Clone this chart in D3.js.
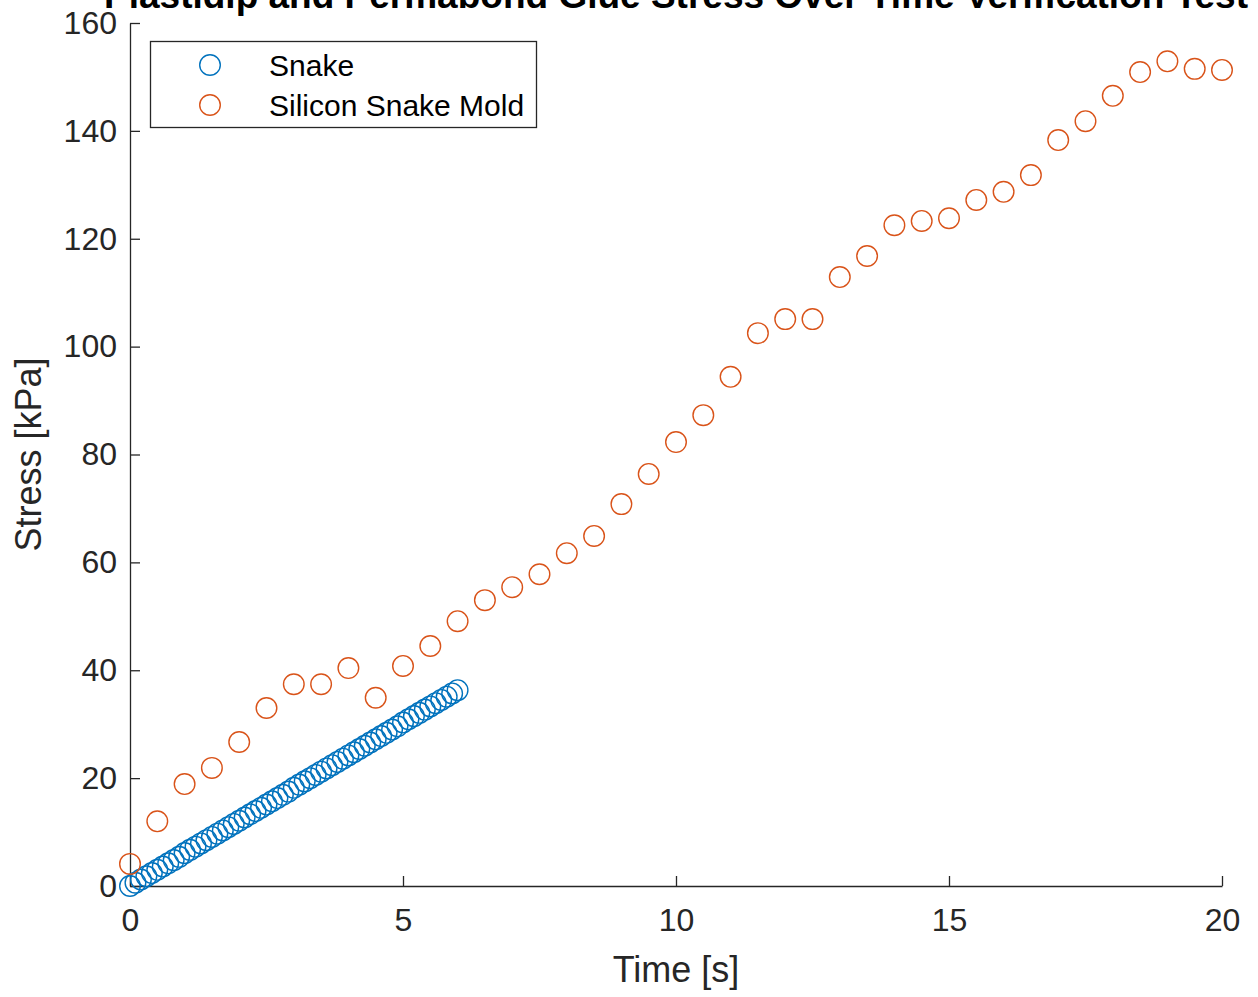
<!DOCTYPE html>
<head>
    <script src="https://d3js.org/d3.v7.min.js"></script>
    <style>
        body { margin: 0; background: #fff; }
        text { font-family: "Liberation Sans", Arial, sans-serif; }
    </style>
</head>

<body>
    <div id="chart"></div>
</body>

<script>

    // Snake: time [s] and stress [kPa]
    const snakeTime = [0.0,0.1,0.2,0.3,0.4,0.5,0.6,0.7,0.8,0.9,1.0,1.1,1.2,1.3,1.4,1.5,1.6,1.7,1.8,1.9,
        2.0,2.1,2.2,2.3,2.4,2.5,2.6,2.7,2.8,2.9,3.0,3.1,3.2,3.3,3.4,3.5,3.6,3.7,3.8,3.9,
        4.0,4.1,4.2,4.3,4.4,4.5,4.6,4.7,4.8,4.9,5.0,5.1,5.2,5.3,5.4,5.5,5.6,5.7,5.8,5.9,6.0];
    const snakeStress = [0.0,0.6,1.2,1.8,2.4,3.0,3.6,4.2,4.8,5.4,6.1,6.7,7.3,7.9,8.5,9.1,9.7,10.3,10.9,11.5,
        12.1,12.7,13.3,13.9,14.5,15.1,15.7,16.3,16.9,17.5,18.2,18.8,19.4,20.0,20.6,21.2,21.8,22.4,23.0,23.6,
        24.2,24.8,25.4,26.0,26.6,27.2,27.8,28.4,29.0,29.6,30.3,30.9,31.5,32.1,32.7,33.3,33.9,34.5,35.1,35.7,36.3];

    // Silicon Snake Mold
    const moldTime = [0,0.5,1,1.5,2,2.5,3,3.5,4,4.5,5,5.5,6,6.5,7,7.5,8,8.5,9,9.5,
        10,10.5,11,11.5,12,12.5,13,13.5,14,14.5,15,15.5,16,16.5,17,17.5,18,18.5,19,19.5,20];
    const moldStress = [4.1,12.0,18.9,21.9,26.7,33.0,37.4,37.4,40.4,34.9,40.8,44.5,49.1,53.0,55.4,57.8,61.7,64.9,70.8,76.4,
        82.3,87.3,94.4,102.5,105.1,105.1,112.9,116.8,122.5,123.3,123.8,127.2,128.7,131.8,138.3,141.8,146.5,150.9,152.9,151.5,151.3];

    const xTicks = [0, 5, 10, 15, 20];
    const yTicks = [0, 20, 40, 60, 80, 100, 120, 140, 160];

    const seriesNames = ['Snake', 'Silicon Snake Mold'];
    const seriesColors = ['#0072BD', '#D95319'];

    const width = 1258,
        height = 997;
    const margin = {left: 130, right: 36, top: 23, bottom: 111};
    const axisColor = '#262626';

    const svg = d3.select('#chart').append('svg')
        .attr('width', width)
        .attr('height', height);

    const x = d3.scaleLinear()
        .domain([0, 20])
        .range([margin.left, width - margin.right]);

    const y = d3.scaleLinear()
        .domain([0, 160])
        .range([height - margin.bottom, margin.top]);

    // axes (box off, ticks pointing inward)
    const xAxis = svg.append('g')
        .attr('transform', `translate(0,${y(0)})`)
        .call(d3.axisBottom(x).tickValues(xTicks).tickSizeInner(-10).tickSizeOuter(0).tickPadding(22));

    const yAxis = svg.append('g')
        .attr('transform', `translate(${x(0)},0)`)
        .call(d3.axisLeft(y).tickValues(yTicks).tickSizeInner(-10).tickSizeOuter(0).tickPadding(13));

    [xAxis, yAxis].forEach(g => {
        g.select('.domain').attr('stroke', axisColor).attr('stroke-width', 1.3);
        g.selectAll('.tick line').attr('stroke', axisColor).attr('stroke-width', 1.3);
        g.selectAll('.tick text')
            .attr('fill', axisColor)
            .style('font-size', '32px')
            .style('font-family', '"Liberation Sans", Arial, sans-serif');
    });

    // series
    const series = [
        {name: seriesNames[0], color: seriesColors[0], pts: snakeTime.map((t, i) => [t, snakeStress[i]])},
        {name: seriesNames[1], color: seriesColors[1], pts: moldTime.map((t, i) => [t, moldStress[i]])}
    ];

    series.forEach(s => {
        svg.append('g')
            .selectAll('circle').data(s.pts)
            .enter()
            .append('circle')
            .attr('cx', d => x(d[0]))
            .attr('cy', d => y(d[1]))
            .attr('r', 10.3)
            .attr('fill', 'none')
            .attr('stroke', s.color)
            .attr('stroke-width', 1.4);
    });

    // axis labels
    svg.append('text')
        .attr('x', (x(0) + x(20)) / 2)
        .attr('y', 982)
        .attr('text-anchor', 'middle')
        .attr('fill', axisColor)
        .style('font-size', '36px')
        .text('Time [s]');

    svg.append('text')
        .attr('transform', `translate(41,${(y(0) + y(160)) / 2}) rotate(-90)`)
        .attr('text-anchor', 'middle')
        .attr('fill', axisColor)
        .style('font-size', '36px')
        .text('Stress [kPa]');

    // title (partly clipped at top, as in the original)
    svg.append('text')
        .attr('x', (x(0) + x(20)) / 2)
        .attr('y', 8)
        .attr('text-anchor', 'middle')
        .attr('fill', '#000')
        .style('font-size', '37px')
        .style('font-weight', 'bold')
        .text('Plastidip and Permabond Glue Stress Over Time Verification Test');

    // legend
    const legend = svg.append('g');
    legend.append('rect')
        .attr('x', 150.5).attr('y', 41.5)
        .attr('width', 386).attr('height', 86)
        .attr('fill', '#fff')
        .attr('stroke', axisColor)
        .attr('stroke-width', 1.3);

    seriesNames.forEach((n, i) => {
        const ly = 65 + i * 40;
        legend.append('circle')
            .attr('cx', 210).attr('cy', ly).attr('r', 10.3)
            .attr('fill', 'none')
            .attr('stroke', seriesColors[i])
            .attr('stroke-width', 1.4);
        legend.append('text')
            .attr('x', 269).attr('y', ly)
            .attr('dy', '0.35em')
            .attr('fill', '#000')
            .style('font-size', '30px')
            .text(n);
    });

</script>
